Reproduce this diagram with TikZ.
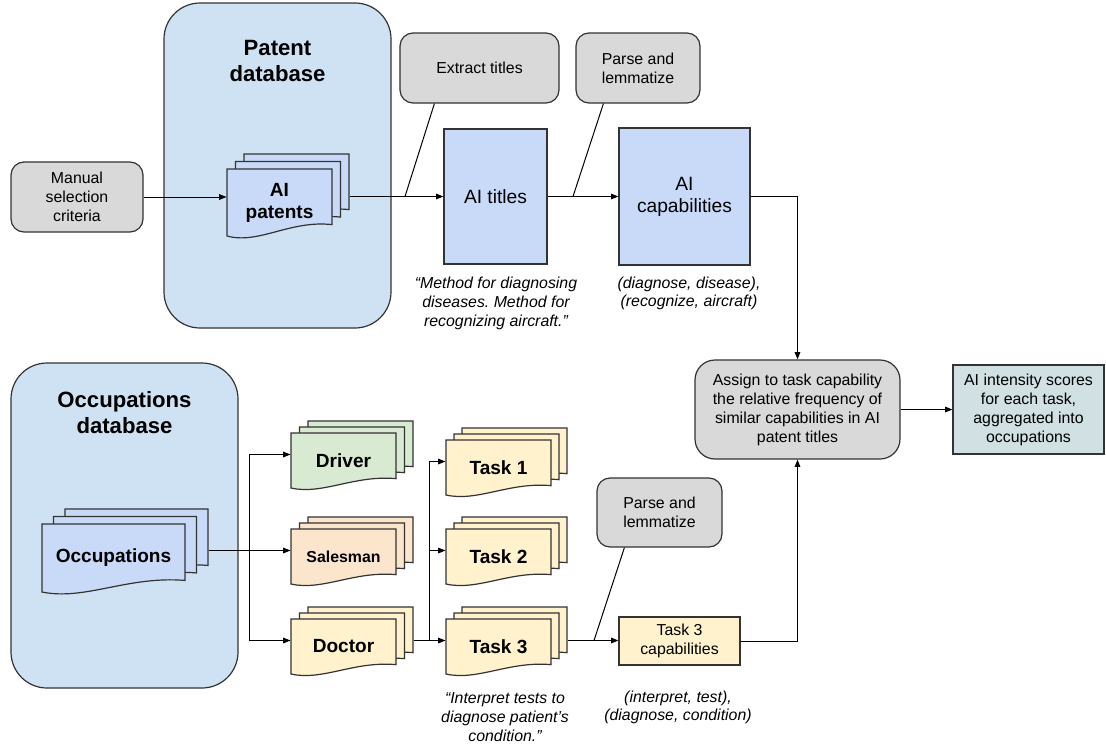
\documentclass[tikz,border=0pt]{standalone}
\usepackage{fontspec}
\setmainfont{Liberation Sans}
\usepackage{tikz}
\usetikzlibrary{arrows.meta,calc,positioning}
\frenchspacing

\definecolor{boxgray}{HTML}{D9D9D9}
\definecolor{dbblue}{HTML}{CFE2F3}
\definecolor{docblue}{HTML}{C9DAF8}
\definecolor{drivergreen}{HTML}{D9EAD3}
\definecolor{salesorange}{HTML}{FCE5CD}
\definecolor{docyellow}{HTML}{FFF2CC}
\definecolor{scoreteal}{HTML}{D0E0E3}

\newlength\pxu
\setlength\pxu{0.75pt}

\newcommand\bodyfont{\fontsize{11.9}{14.3}\selectfont}
\newcommand\bigfont{\fontsize{14.4}{16.5}\selectfont}
\newcommand\docfont{\bfseries\fontsize{14.3}{16.5}\selectfont}
\newcommand\smallbf{\bfseries\fontsize{11.9}{14.3}\selectfont}
\newcommand\headfont{\bfseries\fontsize{16.6}{19.5}\selectfont}
\newcommand\notefont{\itshape\fontsize{11.9}{14}\selectfont}

% stack of three document sheets: name, x, y, width, height, step x, step y, fill, text
\newcommand{\docstack}[9]{%
  \foreach \k in {2,1,0}{%
    \pgfmathsetmacro\ox{#2+\k*#6}%
    \pgfmathsetmacro\oy{#3-\k*#7}%
    \filldraw[docline,fill=#8] (\ox,\oy) -- ++(#4,0) -- ++(0,{0.83*#5})
      .. controls ({\ox+0.6*#4},{\oy+0.76*#5}) and ({\ox+0.3*#4},{\oy+1.13*#5}) .. (\ox,{\oy+#5}) -- cycle;
  }
  \pgfmathsetmacro\sw{#4+2*#6}%
  \pgfmathsetmacro\sh{#5+2*#7}%
  \node[inner sep=0pt,minimum width=\sw\pxu,minimum height=\sh\pxu] (#1) at ({#2+#4/2+#6},{#3+#5/2-#7}) {};
  \node[align=center,font=\docfont] (#1-text) at ({#2+#4/2},{#3+#5/2}) {#9};
}

\begin{document}
\begin{tikzpicture}[x=0.75pt,y=-0.75pt,font=\bodyfont,line width=0.75pt,
  box/.style={draw=black!80,line width=0.9pt,inner sep=0pt,align=center},
  graybox/.style={box,fill=boxgray,rounded corners=13\pxu},
  dbbox/.style={box,fill=dbblue,rounded corners=36\pxu},
  docline/.style={draw=black!80,line width=0.9pt},
  arr/.style={-{Triangle[length=5.5pt,width=4.2pt]}},
  note/.style={font=\notefont,align=center,inner sep=0pt}]

\useasboundingbox (0,0) rectangle (1106,746);

% databases
\node[dbbox,minimum width=227\pxu,minimum height=325\pxu] (patentdb) at (277.5,165.5) {};
\node[font=\headfont,align=center] (patenthead) at (277.5,61) {Patent\\database};
\node[dbbox,minimum width=227\pxu,minimum height=325\pxu] (occdb) at (124.5,525.5) {};
\node[font=\headfont,align=center] (occhead) at (124.5,413) {Occupations\\database};

% patent branch
\node[graybox,minimum width=132\pxu,minimum height=70\pxu] (manual) at (77,197) {Manual\\selection\\criteria};
\docstack{patents}{227}{169}{105}{67}{8.5}{7.5}{docblue}{AI\\patents}
\node[graybox,minimum width=159\pxu,minimum height=70\pxu] (extract) at (479.5,68) {Extract titles};
\node[graybox,minimum width=124\pxu,minimum height=70\pxu] (parse) at (638,68) {Parse and\\lemmatize};
\node[box,fill=docblue,minimum width=103\pxu,minimum height=135\pxu,font=\bigfont] (titles) at (495.5,196.5) {AI titles};
\node[box,fill=docblue,minimum width=131\pxu,minimum height=137\pxu,font=\bigfont] (caps) at (684.5,196.5) {AI\\capabilities};
\node[note] (titlesnote) at (496,303.5) {“Method for diagnosing\\diseases. Method for\\recognizing aircraft.”};
\node[note] (capsnote) at (689,293.5) {(diagnose, disease),\\(recognize, aircraft)};

% scoring
\node[graybox,rounded corners=20\pxu,minimum width=205\pxu,minimum height=99\pxu] (assign) at (797.5,409.5) {Assign to task capability\\the relative frequency of\\similar capabilities in AI\\patent titles};
\node[box,fill=scoreteal,minimum width=151\pxu,minimum height=89\pxu] (intensity) at (1028.5,409.5) {AI intensity scores\\for each task,\\aggregated into\\occupations};

% occupation branch
\docstack{occupations}{42}{524}{143}{68}{11.5}{7.5}{docblue}{Occupations}
\docstack{driver}{291}{433}{105}{55}{8.5}{6}{drivergreen}{Driver}
\docstack{salesman}{291}{529}{105}{55}{8.5}{6}{salesorange}{\smallbf Salesman}
\docstack{doctor}{291}{619}{105}{55}{8.5}{6}{docyellow}{Doctor}
\docstack{taskone}{446}{440}{105}{55}{8}{6}{docyellow}{Task 1}
\docstack{tasktwo}{446}{529}{105}{55}{8}{6}{docyellow}{Task 2}
\docstack{taskthree}{446}{619}{105}{55}{8}{6}{docyellow}{Task 3}
\node[graybox,minimum width=125\pxu,minimum height=69\pxu] (parsetwo) at (659.5,512.5) {Parse and\\lemmatize};
\node[box,fill=docyellow,minimum width=121\pxu,minimum height=48\pxu] (taskcaps) at (679.5,641) {Task 3\\capabilities};
\node[note] (tasknote) at (505,717) {“Interpret tests to\\diagnose patient’s\\condition.”};
\node[note] (taskcapsnote) at (678,707.5) {(interpret, test),\\(diagnose, condition)};

% connectors
\draw[arr] (manual.east) -- (manual.east -| patents.west);
\draw[arr] (titles.west -| patents.east) -- (titles.west);
\coordinate (extractjoin) at (405,196.5);
\draw ($(extract.south west)+(35,0)$) -- (extractjoin);
\draw[arr] (titles) -- (caps);
\coordinate (parsejoin) at (573,196.5);
\draw ($(parse.south west)+(28,0)$) -- (parsejoin);
\draw[arr] (caps.east) -| (assign.north);
\draw[arr] (assign) -- (intensity);

\coordinate (occsplit) at ($(occupations.east)!0.5!(salesman.west)$);
\draw[arr] (occupations.east) -- (salesman.west);
\draw[arr] (occsplit) |- (driver.west);
\draw[arr] (occsplit) |- (doctor.west);
\coordinate (doctorsplit) at ($(doctor.east)!0.5!(taskthree.west)$);
\draw[arr] (doctor.east) -- (taskthree.west);
\draw[arr] (doctorsplit) |- (taskone.west);
\draw[arr] (doctorsplit) |- (tasktwo.west);
\draw[arr] (taskthree.east) -- (taskthree.east -| taskcaps.west);
\coordinate (parsetwojoin) at (594,640.5);
\draw ($(parsetwo.south west)+(28,0)$) -- (parsetwojoin);
\draw[arr] (taskcaps.east) -| (assign.south);

\end{tikzpicture}
\end{document}
